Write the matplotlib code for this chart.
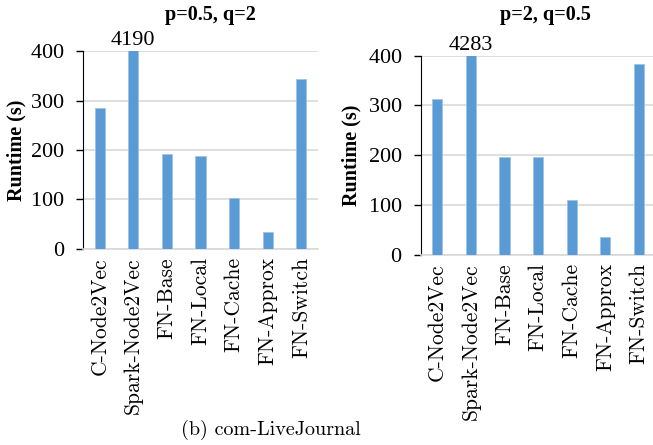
import matplotlib
matplotlib.use('Agg')
import matplotlib.pyplot as plt

methods = ["C-Node2Vec", "Spark-Node2Vec", "FN-Base", "FN-Local", "FN-Cache", "FN-Approx", "FN-Switch"]
runtime_a = [285, 4190, 191, 188, 103, 34, 344]   # p=0.5, q=2
runtime_b = [313, 4283, 196, 196, 110, 36, 383]   # p=2, q=0.5
titles = ["p=0.5, q=2", "p=2, q=0.5"]

plt.rcParams['axes.formatter.use_mathtext'] = True
blue = '#5B9BD5'

fig = plt.figure(figsize=(6.53, 4.45), dpi=100)
ax1 = fig.add_axes([0.127, 0.441, 0.360, 0.444])
ax2 = fig.add_axes([0.644, 0.427, 0.360, 0.448])

for ax, vals, title, tx, ylx in [(ax1, runtime_a, titles[0], 0.322, 0.040),
                                 (ax2, runtime_b, titles[1], 0.836, 0.554)]:
    xs = range(len(methods))
    ax.bar(xs, vals, width=0.3, color=blue, edgecolor='#9DC3E6', linewidth=0.6, zorder=3)
    ax.set_xlim(-0.5, len(methods) - 0.5)
    ax.set_ylim(0, 400)
    ax.set_yticks([0, 100, 200, 300, 400])
    ax.yaxis.grid(True, color='#D9D9D9', linewidth=1.2, zorder=0)
    for s in ['top', 'right']:
        ax.spines[s].set_visible(False)
    ax.spines['bottom'].set_color('#D9D9D9')
    ax.spines['bottom'].set_linewidth(1.2)
    ax.spines['left'].set_color('black')
    ax.tick_params(axis='y', direction='out', length=5, width=1, labelsize=16, pad=8)
    ax.tick_params(axis='x', length=0, pad=6)
    for lab in ax.get_yticklabels():
        lab.set_fontfamily('Liberation Serif')
    ax.set_xticks(list(xs))
    ax.set_xticklabels(methods, rotation=90, fontfamily='cmr10', fontsize=15.5)
    # label for the clipped bar
    i = vals.index(max(vals))
    ax.text(i, 402, str(vals[i]), ha='center', va='bottom', fontsize=16,
            fontfamily='Liberation Serif')
    fig.text(tx, 0.966, title, ha='center', va='center', fontsize=14.5,
             fontweight='bold', fontfamily='Liberation Serif')
    ax.set_ylabel('Runtime (s)', fontsize=14.5, fontweight='bold', fontfamily='Liberation Serif')
    ax.yaxis.set_label_coords(ylx, 0.5 * (ax.get_position().y0 + ax.get_position().y1),
                              transform=fig.transFigure)

fig.text(0.415, 0.033, "(b) com-LiveJournal", ha='center', va='center',
         fontsize=14.5, fontfamily='cmr10')

plt.savefig('out.png', dpi=100)
